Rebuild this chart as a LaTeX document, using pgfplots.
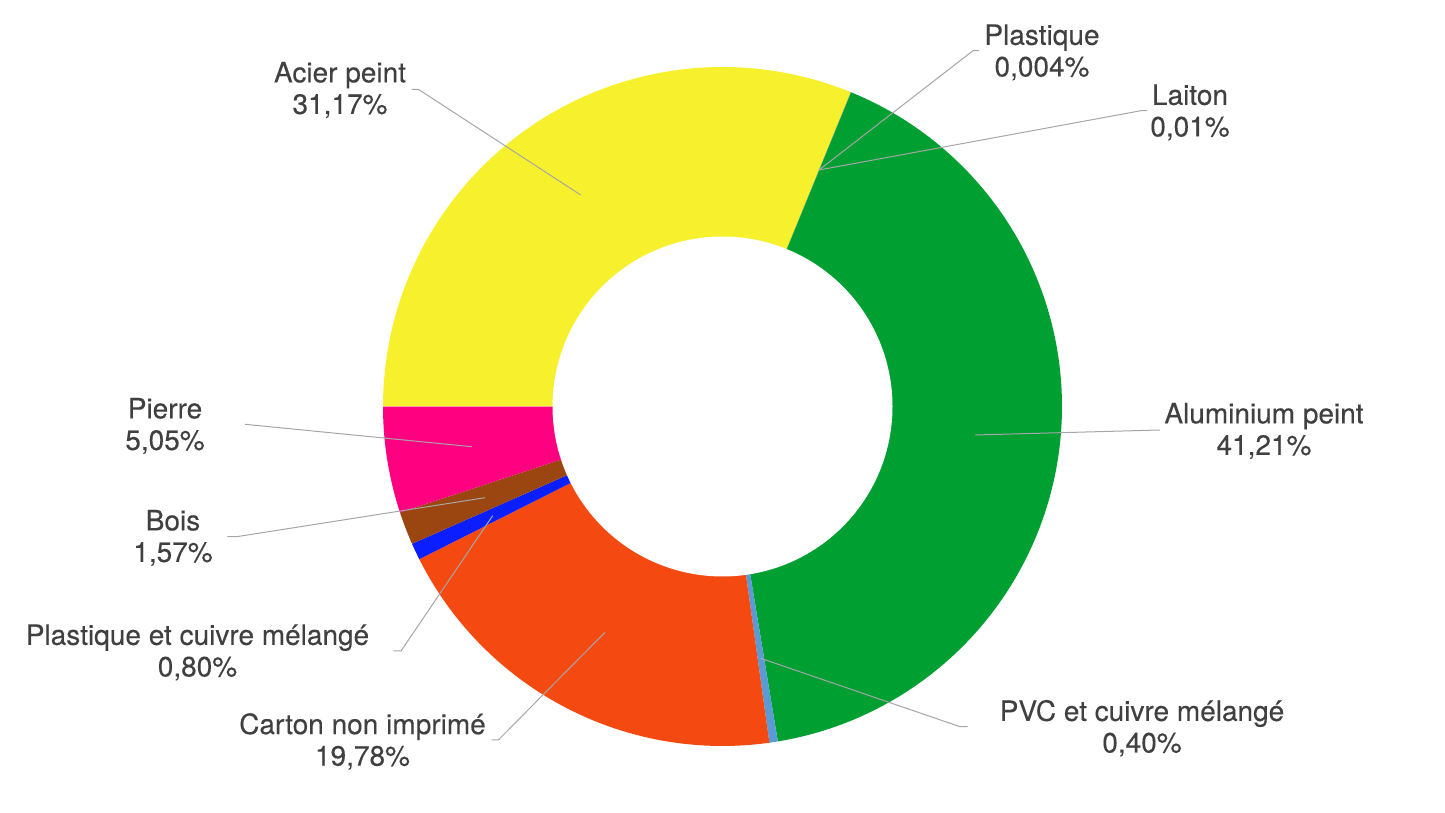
\documentclass[border=0pt]{standalone}
\usepackage{fontspec}
\setmainfont{TeX Gyre Heros}[FakeBold=0.25]
\usepackage{pgfplots}
\pgfplotsset{compat=1.18}
\definecolor{cAlu}{HTML}{009F32}
\definecolor{cAcier}{HTML}{F6F12C}
\definecolor{cCarton}{HTML}{F44A12}
\definecolor{cBlue}{HTML}{0A1EFF}
\definecolor{cBois}{HTML}{9B4510}
\definecolor{cPierre}{HTML}{FF0080}
\definecolor{cPVC}{HTML}{5B9BD5}
\definecolor{cPlast}{HTML}{4472C4}
\definecolor{cLaiton}{HTML}{A5A5A5}
\definecolor{txt}{HTML}{404040}
\definecolor{lead}{HTML}{A6A6A6}
\begin{document}
\begin{tikzpicture}
% shares in percent, clockwise from 9 o'clock
\def\vAcier{31.17}
\def\vPlast{0.004}
\def\vLaiton{0.01}
\def\vAlu{41.21}
\def\vPVC{0.40}
\def\vCarton{19.78}
\def\vPCM{0.80}
\def\vBois{1.57}
\def\vPierre{5.05}
\pgfmathsetmacro\tA{180}
\pgfmathsetmacro\tB{\tA-3.6*\vAcier}
\pgfmathsetmacro\tC{\tB-3.6*\vPlast}
\pgfmathsetmacro\tD{\tC-3.6*\vLaiton}
\pgfmathsetmacro\tE{\tD-3.6*\vAlu}
\pgfmathsetmacro\tF{\tE-3.6*\vPVC}
\pgfmathsetmacro\tG{\tF-3.6*\vCarton}
\pgfmathsetmacro\tH{\tG-3.6*\vPCM}
\pgfmathsetmacro\tI{\tH-3.6*\vBois}
\pgfmathsetmacro\tJ{\tI-3.6*\vPierre}
\begin{axis}[
  width=722.5pt, height=406.5pt, scale only axis,
  xmin=0, xmax=1445, ymin=0, ymax=813,
  hide axis, clip=false,
  every axis plot/.append style={draw=none, samples=120},
]
\path (rel axis cs:0,0) rectangle (rel axis cs:1,1);
\addplot[fill=cAcier, domain=\tB:\tA] ({722.5+339.5*cos(x)},{406.5+339.5*sin(x)}) -- (axis cs:722.5,406.5) -- cycle;
\addplot[fill=cPlast, domain=\tC:\tB, samples=3] ({722.5+339.5*cos(x)},{406.5+339.5*sin(x)}) -- (axis cs:722.5,406.5) -- cycle;
\addplot[fill=cLaiton, domain=\tD:\tC, samples=3] ({722.5+339.5*cos(x)},{406.5+339.5*sin(x)}) -- (axis cs:722.5,406.5) -- cycle;
\addplot[fill=cAlu, domain=\tE:\tD] ({722.5+339.5*cos(x)},{406.5+339.5*sin(x)}) -- (axis cs:722.5,406.5) -- cycle;
\addplot[fill=cPVC, domain=\tF:\tE, samples=5] ({722.5+339.5*cos(x)},{406.5+339.5*sin(x)}) -- (axis cs:722.5,406.5) -- cycle;
\addplot[fill=cCarton, domain=\tG:\tF] ({722.5+339.5*cos(x)},{406.5+339.5*sin(x)}) -- (axis cs:722.5,406.5) -- cycle;
\addplot[fill=cBlue, domain=\tH:\tG, samples=8] ({722.5+339.5*cos(x)},{406.5+339.5*sin(x)}) -- (axis cs:722.5,406.5) -- cycle;
\addplot[fill=cBois, domain=\tI:\tH, samples=12] ({722.5+339.5*cos(x)},{406.5+339.5*sin(x)}) -- (axis cs:722.5,406.5) -- cycle;
\addplot[fill=cPierre, domain=\tJ:\tI, samples=30] ({722.5+339.5*cos(x)},{406.5+339.5*sin(x)}) -- (axis cs:722.5,406.5) -- cycle;
% hole
\addplot[fill=white, domain=0:360, samples=240] ({722.5+170*cos(x)},{406.5+170*sin(x)}) -- cycle;

% leader lines
\begin{scope}[lead, line width=0.5pt]
\draw (axis cs:819,643) -- (axis cs:973,762.3) -- (axis cs:979,762.3);
\draw (axis cs:819,643) -- (axis cs:1141,702.3) -- (axis cs:1147,702.3);
\draw (axis cs:580.7,618) -- (axis cs:418.3,723.7) -- (axis cs:411.7,723.7);
\draw (axis cs:471.7,366.3) -- (axis cs:245,388.7);
\draw (axis cs:485,315.3) -- (axis cs:236.7,276.3) -- (axis cs:227.3,276.3);
\draw (axis cs:492.7,297.3) -- (axis cs:401,162) -- (axis cs:393.3,162);
\draw (axis cs:605,180.7) -- (axis cs:498.3,73) -- (axis cs:491.7,73);
\draw (axis cs:760.7,154.7) -- (axis cs:960,86.3) -- (axis cs:967.5,86.3);
\draw (axis cs:975,378) -- (axis cs:1160,383);
\end{scope}

% labels
\begin{scope}[every node/.style={text=txt, align=center, inner sep=0pt, font=\fontsize{14}{15.8}\selectfont}]
\node at (axis cs:1042,760.5) {Plastique\\0,004\%};
\node at (axis cs:1190,700.5) {Laiton\\0,01\%};
\node at (axis cs:340,723) {Acier peint\\31,17\%};
\node at (axis cs:165,387) {Pierre\\5,05\%};
\node at (axis cs:173,275) {Bois\\1,57\%};
\node at (axis cs:197.5,160.5) {Plastique et cuivre mélangé\\0,80\%};
\node at (axis cs:362.5,71.5) {Carton non imprimé\\19,78\%};
\node at (axis cs:1142,84.7) {PVC et cuivre mélangé\\0,40\%};
\node at (axis cs:1264,382) {Aluminium peint\\41,21\%};
\end{scope}
\end{axis}
\end{tikzpicture}
\end{document}
